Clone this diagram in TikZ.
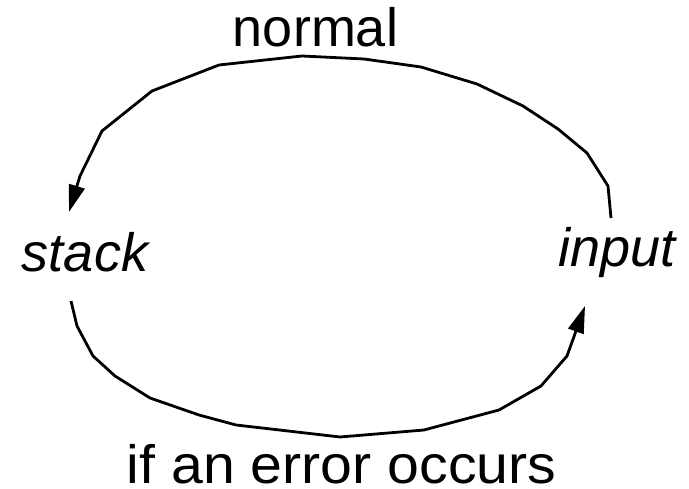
\documentclass[tikz,border=0pt]{standalone}
\usepackage{fontspec}
\setmainfont{Liberation Sans}
\usetikzlibrary{arrows.meta}
\begin{document}
\begin{tikzpicture}[x=1pt,y=1pt,
  lbl/.style={inner sep=0pt,anchor=base,font=\fontsize{54}{60}\selectfont},
  arc/.style={line width=2.8pt,line join=miter,-{Triangle[length=27pt,width=16pt]}}]
\useasboundingbox (0,0) rectangle (689,489);
\node[lbl] (normal) at (315.5,442) {normal};
\node[lbl,xscale=1.06] (err) at (341.5,5) {if an error occurs};
\node[lbl,font=\fontsize{54}{60}\selectfont\itshape] (stack) at (85,217) {stack};
\node[lbl,font=\fontsize{54}{60}\selectfont\itshape] (input) at (617,222) {input};
\coordinate (inTop) at (611,271);
\coordinate (stTop) at (69,277);
\coordinate (stBot) at (71,188);
\coordinate (inBot) at (585,183);
\draw[arc] (inTop) -- (608,303) -- (587,336) -- (558,360) -- (523,383) -- (477,405)
  -- (421,422) -- (364,430) -- (302,433) -- (219,424) -- (152,398) -- (102,358)
  -- (80,313) -- (stTop);
\draw[arc] (stBot) -- (77,163) -- (93,133) -- (115,113) -- (150,91) -- (199,74)
  -- (236,64) -- (340,52) -- (424,59) -- (499,79) -- (541,103) -- (567,133) -- (inBot);
\end{tikzpicture}
\end{document}
